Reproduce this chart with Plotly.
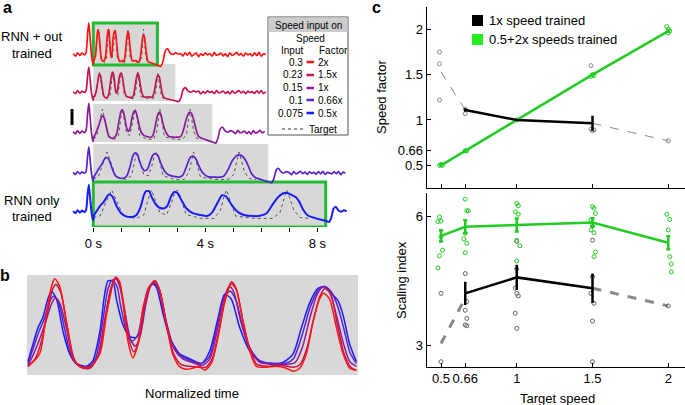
import plotly.graph_objects as go

W, H = 685, 405
FONT = "Liberation Sans, Arial, sans-serif"

# ---------------- data ----------------
speed_factors = ["2x", "1.5x", "1x", "0.66x", "0.5x"]
speed_inputs = ["0.3", "0.23", "0.15", "0.1", "0.075"]
colors = ["#ff1414", "#c8134f", "#8c1a99", "#5a22cc", "#1a1aff"]
pattern_dur = [2.0, 2.57, 3.85, 5.8, 7.7]      # s
box_end = [2.29, 2.93, 4.25, 6.25, 8.3]        # s
trace_end = [6.2, 6.2, 6.2, 9.05, 9.05]        # s

# panel b: normalized time (%) and output (%) per speed
red_u = [0.3, 3.8, 5.8, 7.4, 8.4, 9.9, 11.9, 13.9, 15.9, 18.9, 22, 24, 26, 27, 28, 29, 30.5, 32, 33.5, 35, 37, 38.6, 40, 42, 44, 46, 48, 50, 52, 53.7, 55.7, 57.7, 59.7, 61.7, 63.2, 65.3, 67.3, 69.3, 72.3, 75.3, 78.3, 80.4, 82.4, 84.4, 86.4, 88.4, 89.6, 91.4, 93.5, 95.5, 97.5, 99.5]
red_v = [6.7, 20, 60, 90, 98, 90, 53, 17, 7, 6, 20, 60, 93, 99, 95, 73, 33, 16, 30, 67, 90, 96, 87, 53, 20, 7, 4, 5, 7, 3, 10, 37, 73, 93, 87, 53, 23, 7, 6, 7, 5, 2, 5, 20, 53, 77, 83, 77, 47, 20, 5, 3]
crimson_u = [0.3, 2.5, 4.5, 6.3, 7.8, 8.8, 10.2, 12.2, 14.2, 16.2, 19, 21.5, 23.5, 25.5, 26.8, 28, 29.3, 30.8, 32.3, 33.8, 35.4, 37.2, 38.7, 40.2, 42.2, 44.3, 46.5, 49, 52, 54, 56, 58, 60, 61.8, 63.2, 65.2, 67.3, 69.5, 73, 77, 80.5, 82.5, 84.5, 86.5, 88.5, 90, 91.8, 93.8, 95.8, 97.8, 99.5]
crimson_v = [7, 15, 35, 65, 88, 92, 84, 48, 15, 6, 5, 18, 55, 90, 100, 93, 70, 35, 22, 33, 68, 91, 96, 85, 50, 20, 9, 7, 6, 6, 15, 45, 80, 95, 88, 55, 25, 9, 7, 8, 6, 9, 25, 55, 80, 88, 82, 50, 20, 6, 3]
purple_u = [0.3, 2, 4, 5.8, 7.4, 8.6, 10, 12, 14, 16, 19, 21.5, 23.5, 25.5, 26.8, 28, 29.5, 31.3, 32.7, 34.3, 35.8, 37.3, 38.8, 40.3, 42.3, 44.5, 47, 50, 53, 55.3, 57.5, 59.5, 61.2, 62.5, 64.5, 67, 70, 74, 78, 81, 83.3, 85.5, 87.7, 89.5, 91.3, 93.5, 95.5, 97.5, 99.5]
purple_v = [8, 20, 37, 55, 72, 78, 72, 45, 15, 7, 6, 18, 55, 90, 98, 90, 65, 35, 28, 40, 70, 90, 95, 83, 50, 25, 15, 11, 8, 15, 45, 78, 90, 84, 55, 28, 12, 9, 9, 11, 28, 58, 82, 90, 85, 60, 32, 12, 7]
indigo_u = [0.3, 1.9, 3.6, 5.3, 6.8, 8, 9.4, 11.4, 13.4, 15.5, 18.5, 20.7, 22.7, 24.5, 25.8, 27.2, 28.3, 30, 31.8, 33.5, 35, 36.6, 38.2, 39.7, 41.7, 43.8, 46.5, 49.5, 52.8, 55.2, 57.5, 59.6, 61.4, 63.2, 65, 67.5, 70.5, 74.5, 78, 80.5, 83, 85.5, 88, 90, 92, 94, 95.8, 97.5, 99.5]
indigo_v = [10, 26, 43, 57, 74, 80, 75, 45, 17, 8, 6, 15, 50, 88, 97, 90, 70, 44, 33, 40, 65, 88, 94, 88, 58, 32, 18, 13, 10, 18, 50, 80, 85, 75, 50, 25, 12, 10, 10, 15, 38, 68, 86, 90, 84, 68, 45, 22, 10]
blue_u = [0.3, 1.8, 3.3, 4.8, 6.3, 7.4, 8.9, 10.9, 12.9, 14.9, 17.9, 19.9, 22, 23.5, 24.5, 26, 27, 29, 31, 33, 34.5, 36, 37.6, 39, 41, 43.1, 46.1, 49.1, 52.7, 55.2, 57.7, 59.7, 61.7, 64.3, 67.3, 70.3, 74.3, 77.3, 80.4, 82.9, 85.4, 87.9, 89.9, 91.9, 94, 95.5, 97.5, 99.5]
blue_v = [12, 30, 47, 58, 77, 85, 77, 43, 20, 10, 7, 13, 43, 83, 96, 95, 77, 50, 38, 37, 47, 77, 93, 90, 63, 37, 20, 15, 10, 23, 57, 82, 77, 47, 23, 13, 10, 11, 20, 47, 73, 88, 90, 83, 75, 60, 30, 12]
# target (normalized)
target_u = [0, 3, 6, 8.5, 11, 14, 20, 23.5, 25.5, 27, 28.5, 31, 34, 36, 37.5, 39, 40.5, 43, 50, 56, 59, 60.5, 61.8, 63.2, 66, 75, 83, 86.5, 88.5, 89.7, 91, 93, 96, 100]
target_v = [5, 10, 60, 100, 60, 10, 2, 15, 70, 100, 70, 20, 15, 50, 85, 100, 75, 15, 2, 2, 30, 75, 100, 70, 10, 2, 2, 20, 70, 100, 75, 30, 5, 2]

# pre-onset segment (time s, output fraction)
pre_t = [-0.72, -0.64, -0.56, -0.48, -0.40, -0.32, -0.26, -0.2, -0.16, -0.12, -0.06, -0.01]
pre_v = [0.27, 0.2, 0.3, 0.22, 0.29, 0.24, 0.3, 0.9, 1.18, 0.8, 0.2, -0.05]
# after speed input off (time after box end, output fraction)
post_dt = [0.05, 0.12, 0.2, 0.28, 0.36, 0.45, 0.55, 0.65, 0.75]
post_v = [-0.08, -0.1, 0.05, 0.35, 0.42, 0.3, 0.25, 0.3, 0.26]
baseline_noise = [0.03, -0.04, 0.05, -0.02, 0.06, -0.05, 0.01, 0.04, -0.06, 0.02, -0.03, 0.05, -0.01, 0.03, -0.05, 0.06, -0.02, 0.0, 0.04, -0.04, 0.02, -0.06, 0.05, -0.03, 0.01, 0.06, -0.02, 0.03, -0.05, 0.04, -0.01, 0.02, -0.04, 0.05, -0.03, 0.06, -0.05, 0.02, 0.0, -0.03, 0.04, -0.02, 0.05, -0.06, 0.03, -0.01, 0.04, -0.04, 0.02, 0.05, -0.02, 0.03]

# panel c
target_speeds = [0.5, 0.66, 1, 1.5, 2]
sf_green = [0.5, 0.66, 1.0, 1.5, 1.98]
sf_green_pts_x = [0.49, 0.5, 0.51, 0.66, 0.67, 1.0, 1.49, 1.5, 1.51, 1.99, 2.0, 2.01, 2.0]
sf_green_pts_y = [0.5, 0.51, 0.5, 0.66, 0.66, 1.0, 1.48, 1.5, 1.49, 2.03, 2.0, 1.98, 1.96]
sf_black_x = [0.66, 1, 1.5]
sf_black = [1.11, 1.0, 0.963]
sf_black_err = [0.02, 0.0, 0.085]
sf_ext1_x, sf_ext1_y = [0.5, 0.66], [1.53, 1.11]
sf_ext2_x, sf_ext2_y = [1.5, 2.0], [0.963, 0.77]
sf_gray_x = [0.49, 0.49, 0.49, 0.66, 0.66, 1.49, 1.5, 1.51, 1.49, 2.0]
sf_gray_y = [1.75, 1.62, 1.22, 1.07, 1.12, 1.6, 0.88, 0.89, 0.9, 0.77]

si_green = [5.54, 5.75, 5.79, 5.85, 5.38]
si_green_err = [0.13, 0.15, 0.15, 0.1, 0.15]
si_green_pts_x = [0.49, 0.5, 0.48, 0.5, 0.51, 0.49, 0.48,
                  0.66, 0.67, 0.68, 0.66, 0.65, 0.67, 0.66,
                  1.0, 1.01, 0.99, 1.01, 1.0, 1.02, 1.0,
                  1.5, 1.51, 1.52, 1.49, 1.5, 1.49, 1.51, 1.52, 1.51,
                  1.99, 2.01, 2.0, 2.01, 2.02, 2.02]
si_green_pts_y = [5.98, 5.88, 5.87, 5.52, 5.21, 5.08, 4.80,
                  6.39, 6.12, 6.12, 5.60, 5.47, 5.37, 5.15,
                  6.29, 6.24, 6.10, 6.04, 5.44, 5.31, 4.96,
                  6.22, 6.18, 6.06, 5.92, 5.77, 5.68, 5.61, 5.17, 5.06,
                  6.04, 5.92, 5.68, 5.06, 4.89, 4.71]
si_black_x = [0.66, 1, 1.5]
si_black = [4.21, 4.58, 4.33]
si_black_err = [0.27, 0.29, 0.34]
si_ext1_x, si_ext1_y = [0.5, 0.66], [3.05, 4.1]
si_ext2_x, si_ext2_y = [1.5, 2.0], [4.33, 3.92]
si_gray_x = [0.5, 0.5, 0.66, 0.67, 0.66, 0.67, 0.66, 0.67,
             1.0, 1.0, 0.99, 1.0, 1.01, 0.99, 1.0,
             1.5, 1.5, 1.49, 1.51, 1.5, 1.5, 2.0]
si_gray_y = [4.21, 2.63, 4.67, 4.02, 3.82, 3.63, 3.48, 3.46,
             5.41, 4.77, 4.33, 4.21, 4.15, 3.75, 3.40,
             5.44, 4.60, 4.21, 3.98, 3.57, 2.63, 3.92]

# ---------------- layout helpers ----------------
def fx(px):
    return px / W

def fy(py):
    return 1 - py / H

trough_px = [63, 99, 140, 180, 219]
amp_px = [34, 27, 31, 28, 29]
box_top = [23, 64, 104, 144, 182]
box_bot = [65, 101, 142, 181, 227]
patterns = [(red_u, red_v), (crimson_u, crimson_v), (purple_u, purple_v),
            (indigo_u, indigo_v), (blue_u, blue_v)]

fig = go.Figure()
shapes = []
annotations = []

# ---------------- panel a ----------------
T0_PX, PX_PER_S = 93.3, 28.0
xa_l, xa_r = 60, 352
xa_range = [(xa_l - T0_PX) / PX_PER_S, (xa_r - T0_PX) / PX_PER_S]
NOISE_DT = 0.08

for i in range(5):
    shapes.append(dict(type="rect", xref="x", yref="y", x0=0, x1=box_end[i],
                       y0=box_top[i], y1=box_bot[i], fillcolor="#d8d8d8",
                       line=dict(width=0), layer="below"))
for i in (0, 4):
    shapes.append(dict(type="rect", xref="x", yref="y", x0=0, x1=box_end[i],
                       y0=box_top[i], y1=box_bot[i], fillcolor="rgba(0,0,0,0)",
                       line=dict(color="#22bb33", width=3), layer="below"))

for i in range(5):
    u, v = patterns[i]
    ts = list(pre_t)
    vs = list(pre_v)
    ts += [uu / 100 * pattern_dur[i] for uu in u]
    vs += [vv / 100 for vv in v]
    ts += [box_end[i] + d for d in post_dt]
    vs += list(post_v)
    k = 0
    t = box_end[i] + post_dt[-1] + NOISE_DT
    while t <= trace_end[i] and k < len(baseline_noise):
        ts.append(t)
        vs.append(0.25 + baseline_noise[(k + 7 * i) % len(baseline_noise)])
        t += NOISE_DT
        k += 1
    ys = [trough_px[i] - amp_px[i] * vv for vv in vs]
    # target
    tt = [uu / 100 * pattern_dur[i] for uu in target_u]
    ty = [trough_px[i] - amp_px[i] * vv / 100 for vv in target_v]
    fig.add_trace(go.Scatter(x=tt, y=ty, mode="lines", xaxis="x", yaxis="y",
                             line=dict(color="#555555", width=1, dash="dot"),
                             showlegend=False, hoverinfo="skip"))
    fig.add_trace(go.Scatter(x=ts, y=ys, mode="lines", xaxis="x", yaxis="y",
                             line=dict(color=colors[i], width=2 if i == 4 else 1.7,
                                       shape="spline", smoothing=0.6),
                             showlegend=False, hoverinfo="skip"))

# scale bar
shapes.append(dict(type="line", xref="paper", yref="paper", x0=fx(72), x1=fx(72),
                   y0=fy(109), y1=fy(125), line=dict(color="black", width=3)))

# legend box
shapes.append(dict(type="rect", xref="paper", yref="paper", x0=fx(268), x1=fx(348),
                   y0=fy(135), y1=fy(17), fillcolor="white",
                   line=dict(color="#555555", width=1)))
shapes.append(dict(type="rect", xref="paper", yref="paper", x0=fx(268.5), x1=fx(347.5),
                   y0=fy(32), y1=fy(17.5), fillcolor="#cccccc", line=dict(width=0)))

def txt(x, y, s, size=13, anchor="center", bold=False, angle=0, color="black"):
    annotations.append(dict(xref="paper", yref="paper", x=fx(x), y=fy(y),
                            text=("<b>%s</b>" % s) if bold else s, showarrow=False,
                            xanchor=anchor, yanchor="middle", textangle=angle,
                            font=dict(family=FONT, size=size, color=color)))

txt(308, 25, "Speed input on", 10)
txt(310, 38, "Speed", 10)
txt(292, 50, "Input", 10)
txt(333, 50, "Factor", 10)
row_y = [62, 75, 88, 100, 113]
for i in range(5):
    txt(305, row_y[i], speed_inputs[i], 10, "right")
    shapes.append(dict(type="line", xref="paper", yref="paper", x0=fx(306.5), x1=fx(314),
                       y0=fy(row_y[i]), y1=fy(row_y[i]),
                       line=dict(color=colors[i], width=2.5)))
    txt(316, row_y[i], speed_factors[i], 10, "left")
shapes.append(dict(type="line", xref="paper", yref="paper", x0=fx(282), x1=fx(304),
                   y0=fy(129), y1=fy(129), line=dict(color="#333333", width=1, dash="dot")))
txt(307, 129, "Target", 10, "left")

txt(32, 37, "RNN + out", 13)
txt(32, 54, "trained", 13)
txt(32, 200, "RNN only", 13)
txt(32, 217, "trained", 13)
txt(7, 8, "a", 16, bold=True)
txt(5, 275, "b", 16, bold=True)
txt(376, 8, "c", 16, bold=True)

# ---------------- panel b ----------------
shapes.append(dict(type="rect", xref="paper", yref="paper", x0=fx(27), x1=fx(358),
                   y0=fy(375), y1=fy(275), fillcolor="#d8d8d8", line=dict(width=0),
                   layer="below"))
for i in [4, 3, 2, 1, 0]:
    u, v = patterns[i]
    fig.add_trace(go.Scatter(x=u, y=v, mode="lines", xaxis="x4", yaxis="y4",
                             line=dict(color=colors[i], width=1.5, shape="spline",
                                       smoothing=0.7),
                             showlegend=False, hoverinfo="skip"))
txt(192, 393, "Normalized time", 13)

# ---------------- panel c ----------------
GREEN = "#22cc22"
GRAY = "#888888"
# top
fig.add_trace(go.Scatter(x=sf_ext1_x, y=sf_ext1_y, mode="lines", xaxis="x2", yaxis="y2",
                         line=dict(color=GRAY, width=1, dash="dash"), showlegend=False))
fig.add_trace(go.Scatter(x=sf_ext2_x, y=sf_ext2_y, mode="lines", xaxis="x2", yaxis="y2",
                         line=dict(color=GRAY, width=1, dash="dash"), showlegend=False))
fig.add_trace(go.Scatter(x=sf_gray_x, y=sf_gray_y, mode="markers", xaxis="x2", yaxis="y2",
                         marker=dict(symbol="circle-open", size=4, color=GRAY,
                                     line=dict(width=1)), showlegend=False))
fig.add_trace(go.Scatter(x=sf_green_pts_x, y=sf_green_pts_y, mode="markers", xaxis="x2",
                         yaxis="y2", marker=dict(symbol="circle-open", size=4, color=GREEN,
                                                 line=dict(width=1)), showlegend=False))
fig.add_trace(go.Scatter(x=target_speeds, y=sf_green, mode="lines+markers", xaxis="x2",
                         yaxis="y2", line=dict(color=GREEN, width=2.5),
                         marker=dict(size=4, color=GREEN), showlegend=False))
fig.add_trace(go.Scatter(x=sf_black_x, y=sf_black, mode="lines", xaxis="x2", yaxis="y2",
                         line=dict(color="black", width=2.5),
                         error_y=dict(type="data", array=sf_black_err, color="black",
                                      thickness=2.5, width=0), showlegend=False))
# bottom
fig.add_trace(go.Scatter(x=si_ext1_x, y=si_ext1_y, mode="lines", xaxis="x3", yaxis="y3",
                         line=dict(color=GRAY, width=3, dash="dash"), showlegend=False))
fig.add_trace(go.Scatter(x=si_ext2_x, y=si_ext2_y, mode="lines", xaxis="x3", yaxis="y3",
                         line=dict(color=GRAY, width=3, dash="dash"), showlegend=False))
fig.add_trace(go.Scatter(x=si_gray_x, y=si_gray_y, mode="markers", xaxis="x3", yaxis="y3",
                         marker=dict(symbol="circle-open", size=4, color="#666666",
                                     line=dict(width=1)), showlegend=False))
fig.add_trace(go.Scatter(x=si_green_pts_x, y=si_green_pts_y, mode="markers", xaxis="x3",
                         yaxis="y3", marker=dict(symbol="circle-open", size=4, color=GREEN,
                                                 line=dict(width=1)), showlegend=False))
fig.add_trace(go.Scatter(x=target_speeds, y=si_green, mode="lines", xaxis="x3", yaxis="y3",
                         line=dict(color=GREEN, width=2.5),
                         error_y=dict(type="data", array=si_green_err, color=GREEN,
                                      thickness=2.5, width=2), showlegend=False))
fig.add_trace(go.Scatter(x=si_black_x, y=si_black, mode="lines", xaxis="x3", yaxis="y3",
                         line=dict(color="black", width=2.5),
                         error_y=dict(type="data", array=si_black_err, color="black",
                                      thickness=2.5, width=0), showlegend=False))

# legend of panel c
shapes.append(dict(type="rect", xref="paper", yref="paper", x0=fx(472), x1=fx(483),
                   y0=fy(26), y1=fy(15), fillcolor="black", line=dict(width=0)))
shapes.append(dict(type="rect", xref="paper", yref="paper", x0=fx(472), x1=fx(483),
                   y0=fy(45), y1=fy(34), fillcolor="#22ee22", line=dict(width=0)))
txt(487, 20.5, "1x speed trained", 13, "left")
txt(487, 39.5, "0.5+2x speeds trained", 13, "left")

txt(382, 97, "Speed factor", 13, angle=-90)
txt(401, 280, "Scaling index", 13, angle=-90)
txt(557, 398, "Target speed", 13)

# panel c axes geometry
XC0, XC_PX_PER = 441.0, 151.5
xc_range = [0.5 - (XC0 - 426.7) / XC_PX_PER, 0.5 + (W - XC0) / XC_PX_PER]
axis_common = dict(showgrid=False, zeroline=False, showline=True, linecolor="black",
                   linewidth=1, ticks="inside", ticklen=4, tickcolor="black",
                   tickfont=dict(family=FONT, size=13, color="black"))

fig.update_layout(
    width=W, height=H, margin=dict(l=0, r=0, t=0, b=0),
    paper_bgcolor="white", plot_bgcolor="rgba(0,0,0,0)",
    showlegend=False, font=dict(family=FONT, size=13, color="black"),
    shapes=shapes, annotations=annotations,
    xaxis=dict(domain=[fx(xa_l), fx(xa_r)], range=xa_range, anchor="y",
               showgrid=False, zeroline=False, showline=False,
               ticks="outside", ticklen=4, tickcolor="black",
               tickvals=[0, 1, 2, 3, 4, 5, 6, 7, 8],
               ticktext=["0 s", "", "", "", "4 s", "", "", "", "8 s"],
               tickfont=dict(family=FONT, size=13)),
    yaxis=dict(domain=[fy(227), 1], range=[227, 0], visible=False, anchor="x"),
    xaxis4=dict(domain=[fx(27), fx(358)], range=[0, 100], visible=False, anchor="y4"),
    yaxis4=dict(domain=[fy(375), fy(275)], range=[-2, 102], visible=False, anchor="x4"),
    xaxis2=dict(domain=[fx(426.7), 1], range=xc_range, anchor="y2",
                tickvals=target_speeds, showticklabels=False, **axis_common),
    yaxis2=dict(domain=[fy(188), fy(7)], range=[0.25, 2.246], anchor="x2",
                tickvals=[0.5, 0.66, 1, 1.5, 2], ticktext=["0.5", "0.66", "1", "1.5", "2"],
                **axis_common),
    xaxis3=dict(domain=[fx(426.7), 1], range=xc_range, anchor="y3",
                tickvals=target_speeds, ticktext=["0.5", "0.66", "1", "1.5", "2"],
                **axis_common),
    yaxis3=dict(domain=[fy(366.7), fy(193)], range=[2.514, 6.532], anchor="x3",
                tickvals=[3, 6], **axis_common),
)

fig.write_html("out.html", config={"displayModeBar": False},
               post_script="document.body.style.margin='0';document.body.style.overflow='hidden';")
